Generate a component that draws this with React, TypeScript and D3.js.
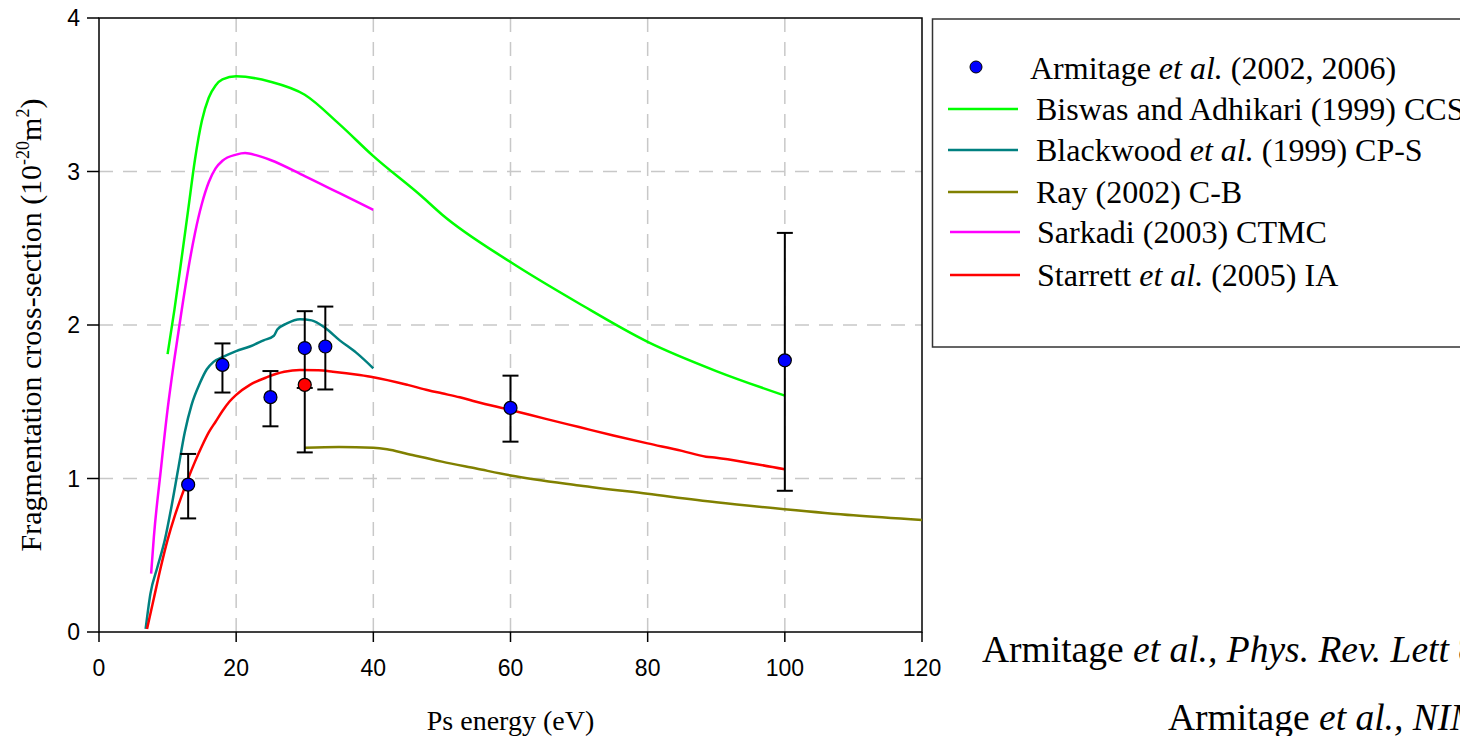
import React from "react";
import * as d3 from "d3";

type Pt = [number, number];

const xTicks = [0, 20, 40, 60, 80, 100, 120];
const yTicks = [0, 1, 2, 3, 4];

// Armitage et al. measurements: energy, value, low, high
const armE = [13, 18, 25, 30, 33, 60, 100];
const armV = [0.96, 1.74, 1.53, 1.85, 1.86, 1.46, 1.77];
const armLo = [0.74, 1.56, 1.34, 1.59, 1.58, 1.24, 0.92];
const armHi = [1.16, 1.88, 1.7, 2.09, 2.12, 1.67, 2.6];
// red measurement
const redE = [30];
const redV = [1.61];
const redLo = [1.17];
const redHi = [1.61];

const biswas: Pt[] = [
  [10, 1.81], [11, 2.1], [12, 2.42], [13, 2.75], [14, 3.08], [15, 3.33], [16, 3.48],
  [17, 3.56], [18, 3.6], [20, 3.62], [25, 3.585], [30, 3.5], [35, 3.31], [40, 3.1],
  [47, 2.84], [50, 2.72], [60, 2.41], [70, 2.14], [80, 1.89], [90, 1.7], [100, 1.54],
];
const blackwood: Pt[] = [
  [6.8, 0.02], [7.5, 0.25], [8.5, 0.42], [9.6, 0.6], [10.5, 0.8], [11.5, 1.05],
  [12.5, 1.3], [13.5, 1.48], [14.7, 1.62], [15.7, 1.71], [16.7, 1.76], [18, 1.79],
  [20, 1.83], [22, 1.86], [24, 1.9], [25.5, 1.93], [26, 1.97], [27.4, 2.01],
  [29.3, 2.037], [31, 2.03], [33, 1.98], [35.1, 1.9], [37.5, 1.82], [40, 1.718],
];
const ray: Pt[] = [
  [30, 1.2], [35, 1.205], [40, 1.2], [42, 1.19], [45, 1.16], [50, 1.11], [55, 1.065],
  [60, 1.02], [70, 0.955], [80, 0.9], [90, 0.845], [100, 0.8], [110, 0.76], [120, 0.73],
];
const sarkadi: Pt[] = [
  [7.6, 0.38], [8, 0.62], [9, 1.05], [10, 1.45], [11, 1.78], [12, 2.08], [13, 2.36],
  [14, 2.6], [15, 2.79], [16, 2.93], [17, 3.02], [18, 3.07], [20, 3.11], [21.3, 3.12],
  [23, 3.105], [25, 3.075], [30, 2.97], [35, 2.86], [40, 2.75],
];
const starrett: Pt[] = [
  [7, 0.02], [8, 0.22], [9, 0.42], [10, 0.6], [11, 0.75], [12, 0.88], [13, 1.0],
  [14, 1.11], [15, 1.21], [16, 1.3], [17, 1.37], [18, 1.44], [19, 1.5], [20, 1.545],
  [22, 1.61], [24.5, 1.66], [27, 1.695], [29.3, 1.707], [32, 1.705], [34.1, 1.696],
  [38, 1.674], [40, 1.66], [45, 1.61], [48, 1.575], [50, 1.555], [52.6, 1.529],
  [55, 1.5], [60, 1.446], [65, 1.39], [70, 1.335], [75, 1.28], [80, 1.229],
  [85, 1.18], [88.5, 1.142], [90, 1.135], [95, 1.1], [100, 1.06],
];

const seriesNames = [
  "Biswas and Adhikari (1999) CCS",
  "Blackwood et al. (1999) CP-S",
  "Ray (2002) C-B",
  "Sarkadi (2003) CTMC",
  "Starrett et al. (2005) IA",
];
const seriesColors = ["#00ff00", "#008080", "#808000", "#ff00ff", "#ff0000"];
const seriesData = [biswas, blackwood, ray, sarkadi, starrett];

const W = 1460;
const H = 736;
const L = 99, R = 922, T = 18, B = 632;

export default function App() {
  const x = d3.scaleLinear().domain([0, 120]).range([L, R]);
  const y = d3.scaleLinear().domain([0, 4]).range([B, T]);
  const line = d3
    .line<Pt>()
    .x((d) => x(d[0]))
    .y((d) => y(d[1]))
    .curve(d3.curveMonotoneX);

  const serif = "'Liberation Serif', 'Times New Roman', serif";
  const sans = "'Liberation Sans', Arial, sans-serif";

  const legendRows = [109, 150, 192, 232, 275];
  const legendLineX = [[948, 1018], [948, 1018], [948, 1018], [950, 1020], [950, 1020]];
  const legendTextX = [1036, 1036, 1036, 1037, 1037];

  const renderLegendText = (name: string) => {
    const idx = name.indexOf("et al.");
    if (idx < 0) return name;
    return (
      <>
        {name.slice(0, idx)}
        <tspan fontStyle="italic">et al.</tspan>
        {name.slice(idx + 6)}
      </>
    );
  };

  return (
    <svg
      width={W}
      height={H}
      style={{ position: "absolute", left: 0, top: 0, background: "#fff" }}
    >
      <rect x={0} y={0} width={W} height={H} fill="#fff" />
      {/* grid */}
      {xTicks.slice(1, -1).map((t) => (
        <line key={"gx" + t} x1={x(t)} x2={x(t)} y1={T} y2={B}
          stroke="#c8c8c8" strokeWidth={1.5} strokeDasharray="14 10" />
      ))}
      {yTicks.slice(1, -1).map((t) => (
        <line key={"gy" + t} x1={L} x2={R} y1={y(t)} y2={y(t)}
          stroke="#c8c8c8" strokeWidth={1.5} strokeDasharray="14 10" />
      ))}
      {/* frame */}
      <rect x={L} y={T} width={R - L} height={B - T} fill="none" stroke="#000" strokeWidth={1.5} />
      {/* ticks */}
      {xTicks.map((t) => (
        <g key={"xt" + t}>
          <line x1={x(t)} x2={x(t)} y1={B} y2={B + 10} stroke="#000" strokeWidth={1.5} />
          <text x={x(t)} y={676} textAnchor="middle" fontFamily={sans} fontSize={23} fill="#000">
            {t}
          </text>
        </g>
      ))}
      {yTicks.map((t) => (
        <g key={"yt" + t}>
          <line x1={L - 12} x2={L} y1={y(t)} y2={y(t)} stroke="#000" strokeWidth={1.5} />
          <text x={80} y={y(t) + 8} textAnchor="end" fontFamily={sans} fontSize={23} fill="#000">
            {t}
          </text>
        </g>
      ))}
      {/* axis labels */}
      <text x={(L + R) / 2} y={730} textAnchor="middle" fontFamily={serif} fontSize={28} fill="#000">
        Ps energy (eV)
      </text>
      <text
        transform={`translate(41, ${(T + B) / 2}) rotate(-90)`}
        textAnchor="middle"
        fontFamily={serif}
        fontSize={30}
        fill="#000"
      >
        Fragmentation cross-section (10
        <tspan dy={-12} fontSize={18}>-20</tspan>
        <tspan dy={12}>m</tspan>
        <tspan dy={-12} fontSize={18}>2</tspan>
        <tspan dy={12}>)</tspan>
      </text>

      {/* curves */}
      {seriesData.map((d, i) => (
        <path key={"s" + i} d={line(d) || ""} fill="none" stroke={seriesColors[i]} strokeWidth={2.5} />
      ))}

      {/* error bars */}
      {armE.map((e, i) => (
        <g key={"eb" + i} stroke="#000" strokeWidth={2}>
          <line x1={x(e)} x2={x(e)} y1={y(armLo[i])} y2={y(armHi[i])} />
          <line x1={x(e) - 8} x2={x(e) + 8} y1={y(armLo[i])} y2={y(armLo[i])} />
          <line x1={x(e) - 8} x2={x(e) + 8} y1={y(armHi[i])} y2={y(armHi[i])} />
        </g>
      ))}
      {redE.map((e, i) => (
        <g key={"reb" + i} stroke="#000" strokeWidth={2}>
          <line x1={x(e)} x2={x(e)} y1={y(redLo[i])} y2={y(redHi[i])} />
          <line x1={x(e) - 8} x2={x(e) + 8} y1={y(redLo[i])} y2={y(redLo[i])} />
        </g>
      ))}
      {armE.map((e, i) => (
        <circle key={"pt" + i} cx={x(e)} cy={y(armV[i])} r={6.5} fill="#0000ff" stroke="#000" strokeWidth={1.2} />
      ))}
      {redE.map((e, i) => (
        <circle key={"rpt" + i} cx={x(e)} cy={y(redV[i])} r={6.5} fill="#ff0000" stroke="#000" strokeWidth={1.2} />
      ))}

      {/* legend */}
      <rect x={932.5} y={19} width={560} height={328} fill="#fff" stroke="#333" strokeWidth={1.5} />
      <circle cx={976} cy={67} r={6} fill="#0000ff" stroke="#000" strokeWidth={1} />
      <text x={1030} y={79} fontFamily={serif} fontSize={32} fill="#000">
        Armitage <tspan fontStyle="italic">et al.</tspan> (2002, 2006)
      </text>
      {seriesNames.map((n, i) => (
        <g key={"lg" + i}>
          <line x1={legendLineX[i][0]} x2={legendLineX[i][1]} y1={legendRows[i]} y2={legendRows[i]}
            stroke={seriesColors[i]} strokeWidth={2.5} />
          <text x={legendTextX[i]} y={legendRows[i] + 11} fontFamily={serif} fontSize={32} fill="#000">
            {renderLegendText(n)}
          </text>
        </g>
      ))}

      {/* references */}
      <text x={982} y={662} fontFamily={serif} fontSize={37.5} fill="#000">
        Armitage <tspan fontStyle="italic">et al., Phys. Rev. Lett</tspan>{" "}
        <tspan fontWeight="bold">89</tspan>, 173402 (2002)
      </text>
      <text x={1168} y={730} fontFamily={serif} fontSize={37.5} fill="#000">
        Armitage <tspan fontStyle="italic">et al., NIM B</tspan> (2006)
      </text>
    </svg>
  );
}
